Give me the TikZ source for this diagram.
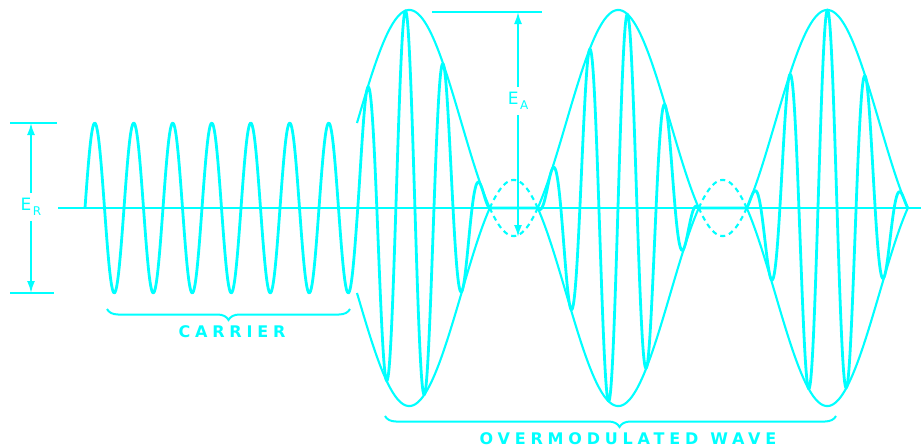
\documentclass[tikz,border=0pt]{standalone}
\usepackage{fontspec}
\usetikzlibrary{arrows.meta,decorations.pathreplacing}
\newfontfamily\capfont[LetterSpace=30]{DejaVu Sans}
\newfontfamily\dimfont{DejaVu Sans}
\definecolor{trace}{HTML}{00FFFF}
\newcommand{\axisy}{208}
\newcommand{\ampl}{85}
\newcommand{\envel}[1]{(\ampl*(1+1.33*sin(max(0,#1-357)/209*360)))}
% modulated wave, #2 = phase shift of the lobe in px
\newcommand{\ovm}[2]{(\axisy-max(0,\envel{#1})*sin(270+(#1-348.25+#2)/38.1*360))}
\newcommand{\elabel}[2]{{\dimfont\fontsize{17}{17}\selectfont #1\kern1.5pt\raisebox{-5pt}{\fontsize{12}{12}\selectfont #2}}}

\begin{document}
\begin{tikzpicture}[x=1pt,y=-1pt,
  wave/.style={trace, line width=2.8pt, line join=round},
  envline/.style={trace, line width=2.1pt},
  axisline/.style={trace, line width=1.6pt},
  tick/.style={trace, line width=1.8pt},
  dimline/.style={trace, line width=1.8pt, -{Latex[length=12pt,width=8pt]}},
  dimlabel/.style={inner sep=5pt, text=trace},
  curly/.style={trace, line width=2pt, decorate, decoration={brace, mirror, amplitude=11pt}},
  caption/.style={text=trace, font=\capfont\bfseries\fontsize{16}{16}\selectfont, inner sep=0pt}]

\useasboundingbox (0,0) rectangle (921,447);

% axis
\coordinate (axL) at (58,\axisy);
\coordinate (axR) at (921,\axisy);
\draw[axisline] (axL) -- (axR);

% carrier, then the overmodulated wave (lobe by lobe)
\draw[wave] plot[domain=85:348.25, samples=300] (\x, {\axisy-\ampl*sin((\x-85)/39*360)})
  -- plot[domain=348.25:537.7, samples=400] (\x, {\ovm{\x}{0}})
  -- plot[domain=537.7:746.7, samples=400] (\x, {\ovm{\x}{6.5}})
  -- plot[domain=746.7:907.8, samples=340] (\x, {\ovm{\x}{-3}});

% envelope
\foreach \a/\b in {357/489.8, 537.7/698.8, 746.7/907.8} {
  \draw[envline] plot[domain=\a:\b, samples=100] (\x, {\axisy-\envel{\x}});
  \draw[envline] plot[domain=\a:\b, samples=100] (\x, {\axisy+\envel{\x}});
}
\foreach \a/\b in {489.8/537.7, 698.8/746.7} {
  \draw[envline, dash pattern=on 5pt off 4pt] plot[domain=\a:\b, samples=40] (\x, {\axisy-\envel{\x}});
  \draw[envline, dash pattern=on 5pt off 4pt] plot[domain=\a:\b, samples=40] (\x, {\axisy+\envel{\x}});
}

% E_R
\coordinate (ertopL) at (10,123);
\coordinate (ertopR) at (57,123);
\coordinate (erbotL) at (10,293);
\coordinate (erbotR) at (54,293);
\coordinate (ertop) at (31,123);
\coordinate (erbot) at (31,293);
\draw[tick] (ertopL) -- (ertopR);
\draw[tick] (erbotL) -- (erbotR);
\node[dimlabel] (er) at (31,207) {\elabel{E}{R}};
\draw[dimline] (er) -- (ertop);
\draw[dimline] (er) -- (erbot);

% E_A
\coordinate (eatopL) at (432,12);
\coordinate (eatopR) at (542,12);
\coordinate (eatop) at (518,12);
\coordinate (eabot) at (518,237);
\draw[tick] (eatopL) -- (eatopR);
\node[dimlabel] (ea) at (518,101) {\elabel{E}{A}};
\draw[dimline] (ea) -- (eatop);
\draw[dimline] (ea) -- (eabot);

% braces
\coordinate (carL) at (107,309);
\coordinate (carR) at (350,309);
\draw[curly] (carL) -- (carR);
\node[caption] (carrier) at (232,332) {CARRIER};

\coordinate (ovmL) at (385,416);
\coordinate (ovmR) at (836,416);
\draw[curly, decoration={aspect=0.52}] (ovmL) -- (ovmR);
\node[caption] (ovmwave) at (628,439) {OVERMODULATED\hspace{12pt}WAVE};

\end{tikzpicture}
\end{document}
